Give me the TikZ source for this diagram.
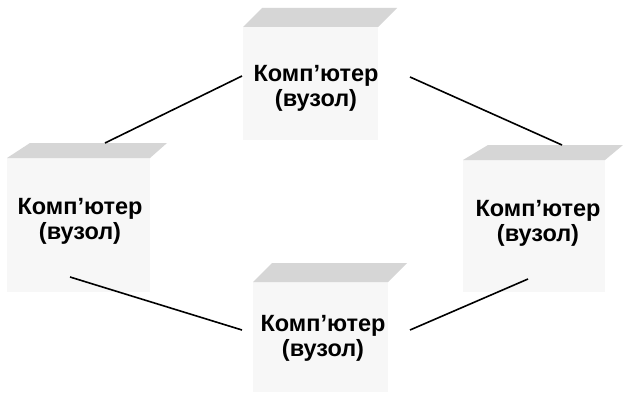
\documentclass[tikz,border=0pt]{standalone}
\usepackage{fontspec}
\setmainfont{Liberation Sans}
\begin{document}
\begin{tikzpicture}[x=1pt,y=-1pt,
  topface/.style={fill=black!16,draw=none},
  frontface/.style={fill=black!3,draw=none},
  lbl/.style={font=\bfseries\fontsize{23.5}{25}\selectfont,align=center,inner sep=0pt},
  link/.style={draw=black,line width=1.6pt}]
\useasboundingbox[fill=white] (0,0) rectangle (623,396);
% top box
\fill[frontface] (243,27) rectangle (378,140);
\fill[topface] (243,27) -- (262,8) -- (397,8) -- (378,27) -- cycle;
\node[lbl] (n1) at (316,88) {Комп’ютер\\(вузол)};
% left box
\fill[frontface] (7,158) rectangle (150,292);
\fill[topface] (7,158) -- (30,143) -- (167,143) -- (150,158) -- cycle;
\node[lbl] (n2) at (80,221) {Комп’ютер\\(вузол)};
% right box
\fill[frontface] (463,160) rectangle (605,292);
\fill[topface] (463,160) -- (488,145) -- (623,145) -- (605,160) -- cycle;
\node[lbl] (n3) at (538,223) {Комп’ютер\\(вузол)};
% bottom box
\fill[frontface] (253,282) rectangle (388,392);
\fill[topface] (253,282) -- (272,263) -- (407,263) -- (388,282) -- cycle;
\node[lbl] (n4) at (323,338) {Комп’ютер\\(вузол)};
% connectors
\coordinate (a1) at (105,143); \coordinate (a2) at (242,76);
\coordinate (b1) at (410,77);  \coordinate (b2) at (562,145);
\coordinate (c1) at (70,277);  \coordinate (c2) at (242,330);
\coordinate (d1) at (410,330); \coordinate (d2) at (528,279);
\draw[link] (a1) -- (a2);
\draw[link] (b1) -- (b2);
\draw[link] (c1) -- (c2);
\draw[link] (d1) -- (d2);
\end{tikzpicture}
\end{document}
